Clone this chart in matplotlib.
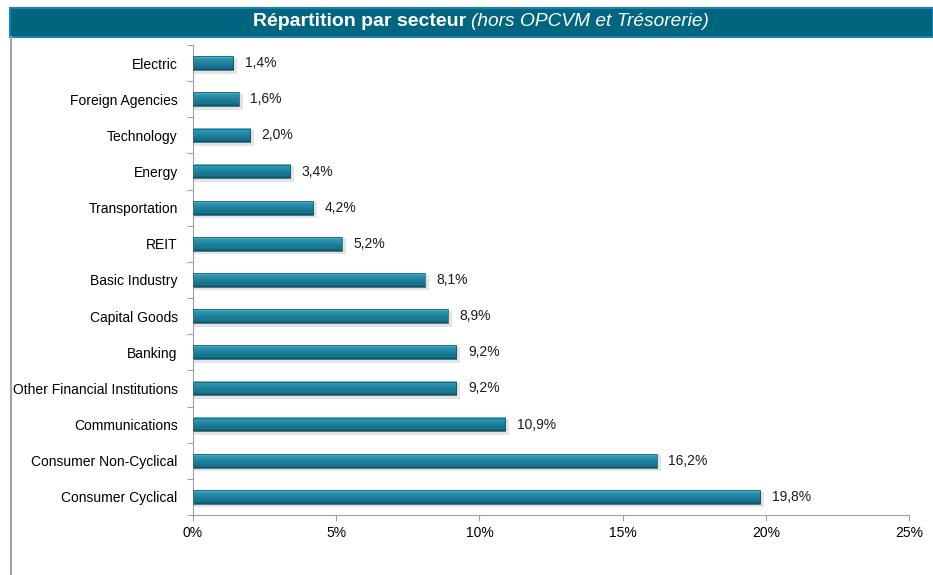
import numpy as np
import matplotlib.pyplot as plt
from matplotlib.colors import LinearSegmentedColormap
from matplotlib.patches import Rectangle

plt.rcParams['font.family'] = ['Liberation Sans', 'DejaVu Sans']

# sectors, top to bottom as on the chart
secteurs = ['Electric', 'Foreign Agencies', 'Technology', 'Energy', 'Transportation',
            'REIT', 'Basic Industry', 'Capital Goods', 'Banking',
            'Other Financial Institutions', 'Communications', 'Consumer Non-Cyclical',
            'Consumer Cyclical']
poids = [1.4, 1.6, 2.0, 3.4, 4.2, 5.2, 8.1, 8.9, 9.2, 9.2, 10.9, 16.2, 19.8]
x_ticks = [0, 5, 10, 15, 20, 25]

fig = plt.figure(figsize=(9.33, 5.75), dpi=100)

# header band + left frame line
fig.patches.append(Rectangle((10/933, 1 - 37/575), 923/933, 29/575, transform=fig.transFigure,
                             facecolor='#006680', edgecolor='#1a80b5', linewidth=1.5))
fig.add_artist(plt.Line2D([10.5/933, 10.5/933], [0, 1 - 37/575], color='#a0a4a8', lw=1.5))
fig.text(466/933, 1 - 22/575, 'Répartition par secteur', color='white', fontsize=14,
         fontweight='bold', ha='right', va='center')
fig.text(471/933, 1 - 22/575, '(hors OPCVM et Trésorerie)', color='white', fontsize=13.8,
         style='italic', ha='left', va='center')

ax = fig.add_axes([193/933, 1 - 515/575, 716/933, 470/575])

n = len(secteurs)
ypos = np.arange(n)
h = 0.38
# top of bar lighter, bottom darker
cmap = LinearSegmentedColormap.from_list('barre', [(0, '#6cc6dd'), (0.15, '#2f98b5'),
                                                  (0.5, '#1f819d'), (0.85, '#17718b'),
                                                  (1, '#0c5267')])
grad = np.linspace(0, 1, 50).reshape(-1, 1)

for y, v in zip(ypos, poids):
    # soft shadow
    ax.add_patch(Rectangle((0.05, y - h/2 + 0.04), v + 0.08, h + 0.06, facecolor='#e4e4e4',
                           edgecolor='none', zorder=1))
    ax.imshow(grad, extent=[0, v, y + h/2, y - h/2], cmap=cmap, aspect='auto',
              origin='upper', zorder=2)
    ax.add_patch(Rectangle((0, y - h/2), v, h, facecolor='none', edgecolor='#0b4d60',
                           linewidth=0.5, zorder=3))
    ax.text(v + 0.4, y, f'{v:.1f}%'.replace('.', ','), va='center', ha='left',
            fontsize=10, color='#1a1a1a')

ax.set_xlim(0, 25)
ax.set_ylim(n - 0.5, -0.5)
ax.set_xticks(x_ticks)
ax.set_xticklabels([f'{t}%' for t in x_ticks], fontsize=10)

# category labels at centres, small ticks at boundaries
ax.set_yticks(np.arange(n + 1) - 0.5)
ax.set_yticklabels([])
ax.set_yticks(ypos, minor=True)
ax.set_yticklabels(secteurs, minor=True, fontsize=10)
ax.tick_params(axis='y', which='minor', length=0, pad=11)
ax.tick_params(axis='y', which='major', length=4, color='#a0a0a0', direction='out')
ax.tick_params(axis='x', length=4, color='#a0a0a0', pad=4)

for s in ['top', 'right']:
    ax.spines[s].set_visible(False)
ax.spines['left'].set_color('#a0a0a0')
ax.spines['bottom'].set_color('#a0a0a0')

plt.savefig('out.png', dpi=100)
